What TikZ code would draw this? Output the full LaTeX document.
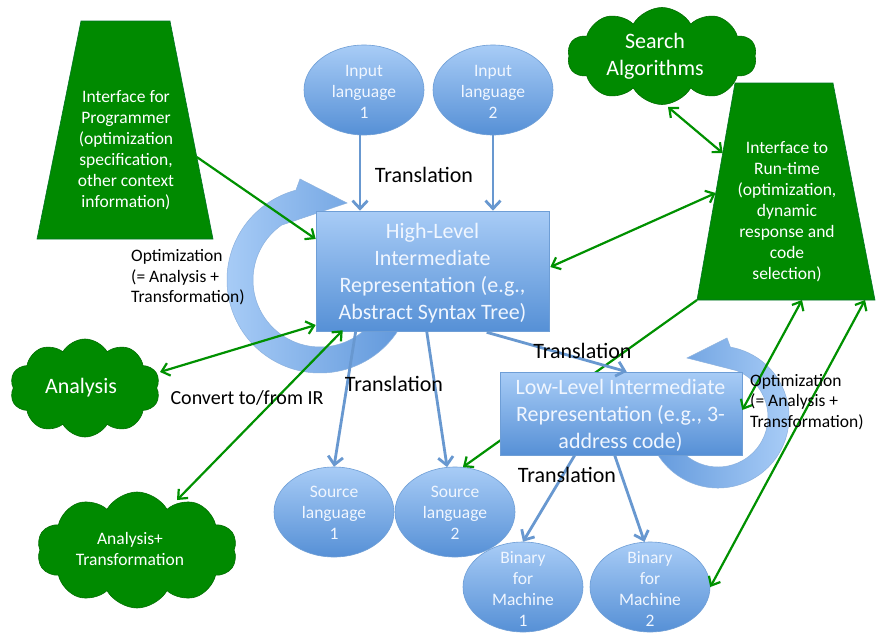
\documentclass[tikz,border=0pt]{standalone}
\usepackage{fontspec}
\setmainfont{Carlito}
\usetikzlibrary{shapes.geometric,shapes.symbols,arrows.meta,calc}
\definecolor{grn}{RGB}{0,138,0}
\definecolor{grnline}{RGB}{0,145,0}
\definecolor{btop}{RGB}{168,204,246}
\definecolor{bbot}{RGB}{86,144,214}
\definecolor{bline}{RGB}{110,158,214}
\definecolor{barrowc}{RGB}{104,152,208}
\definecolor{btext}{RGB}{240,246,255}
\definecolor{ringL}{RGB}{172,207,248}
\definecolor{ringD}{RGB}{98,153,220}
\begin{document}
\begin{tikzpicture}[x=1pt,y=-1pt,
  bluebox/.style={rectangle, inner sep=0pt, top color=btop, bottom color=bbot, draw=bline, line width=0.6pt},
  ell/.style={ellipse, minimum width=120pt, minimum height=90pt, inner sep=0pt, top color=btop, bottom color=bbot, draw=bline, line width=0.6pt},
  etext/.style={inner sep=0pt, text=btext, align=center, font=\fontsize{17.5}{21}\selectfont},
  bigtext/.style={inner sep=0pt, text=btext, align=center, font=\fontsize{22}{27}\selectfont},
  wtext/.style={inner sep=0pt, text=white, align=center, font=\fontsize{17.5}{21}\selectfont},
  wbig/.style={inner sep=0pt, text=white, align=center, font=\fontsize{22}{27}\selectfont},
  lbl/.style={inner sep=0pt, text=black, font=\fontsize{22}{27}\selectfont},
  smlbl/.style={inner sep=0pt, text=black, align=left, font=\fontsize{17.5}{20.5}\selectfont},
  gcloud/.style={cloud, cloud puffs=10, cloud puff arc=120, cloud ignores aspect, inner sep=0pt, fill=grn, draw=grn!80!black, line width=0.6pt},
  trapfill/.style={fill=grn, draw=grn!85!blue, line width=0.6pt},
  ring/.style={draw=bline!80, line width=0.5pt},
  gone/.style={draw=grnline, line width=2.2pt, -{Straight Barb[length=7.5pt,width=13pt]}},
  gtwo/.style={draw=grnline, line width=2.2pt, {Straight Barb[length=7.5pt,width=13pt]}-{Straight Barb[length=7.5pt,width=13pt]}},
  barr/.style={draw=barrowc, line width=2.8pt, -{Straight Barb[length=8pt,width=15pt]}}
]
\fill[white] (0,0) rectangle (876,635);
\useasboundingbox (0,0) rectangle (876,635);

% circular arrows
\coordinate (c1) at (320,280);
\shade[ring, left color=ringL, right color=ringD]
  ($(c1)+(30:93)$) arc[start angle=30,end angle=255,radius=93]
  -- (300,179) -- (347,203) -- ($(c1)+(235:67)$)
  arc[start angle=235,end angle=30,radius=67] -- cycle;
\coordinate (c2) at (718,417);
\shade[ring, left color=ringD, right color=ringL]
  ($(c2)+(163:71)$) arc[start angle=163,end angle=-80,radius=71]
  -- (727,338) -- (687,358) -- ($(c2)+(-68:50)$)
  arc[start angle=-68,end angle=163,radius=50] -- cycle;

% green trapezoids
\coordinate (ipTL) at (81,21);
\coordinate (ipTR) at (170,21);
\coordinate (ipBR) at (213,239);
\coordinate (ipBL) at (37,239);
\fill[trapfill] (ipTL) -- (ipTR) -- (ipBR) -- (ipBL) -- cycle;
\node[wtext] (ip) at (126,150.5) {Interface for\\Programmer\\(optimization\\specification,\\other context\\information)};
\coordinate (rtTL) at (735,83);
\coordinate (rtTR) at (833,83);
\coordinate (rtBR) at (875,300);
\coordinate (rtBL) at (697,300);
\fill[trapfill] (rtTL) -- (rtTR) -- (rtBR) -- (rtBL) -- cycle;
\node[wtext] (rt) at (787,211.5) {Interface to\\Run-time\\(optimization,\\dynamic\\response and\\code\\selection)};

% green clouds
\node[gcloud, minimum width=189pt, minimum height=97pt] (sa) at (662,56) {};
\node[wbig] at (655,56.5) {Search\\Algorithms};
\node[gcloud, minimum width=150pt, minimum height=98pt] (ana) at (85,388) {};
\node[wbig] at (81,388) {Analysis};
\node[gcloud, minimum width=200pt, minimum height=116pt] (at) at (137,550) {};
\node[wtext] at (130,548.5) {Analysis+\\Transformation};

% green connector behind the low-level box
\node[ell] (src2) at (455,512) {};
\draw[gone] (rtBL) -- (src2.80);

% blue shapes
\node[bluebox, minimum width=233pt, minimum height=120pt] (hl) at (432.5,271) {};
\node[bigtext] at (432.5,273) {High-Level\\Intermediate\\Representation (e.g.,\\Abstract Syntax Tree)};
\node[bluebox, minimum width=242pt, minimum height=83pt] (ll) at (621,413.5) {};
\node[bigtext] at (620.5,415.5) {Low-Level Intermediate\\Representation (e.g., 3-\\address code)};

\node[ell] (in1) at (364,90) {};
\node[etext] at (364,92) {Input\\language\\1};
\node[ell] (in2) at (493,90) {};
\node[etext] at (493,92) {Input\\language\\2};
\node[ell] (src1) at (334,512) {};
\node[etext] at (334,513) {Source\\language\\1};
\node[etext] at (455,513) {Source\\language\\2};
\node[ell] (bin1) at (523,587) {};
\node[etext] at (523,588.5) {Binary\\for\\Machine\\1};
\node[ell] (bin2) at (650,587) {};
\node[etext] at (650,588.5) {Binary\\for\\Machine\\2};

% blue connectors
\draw[barr] (in1.265) -- (in1.265 |- hl.north);
\draw[barr] (in2.south) -- (in2.south |- hl.north);
\draw[barr] ($(hl.south west)+(40,0)$) -- (src1.north);
\draw[barr] ($(hl.south west)+(111,0)$) -- (src2.100);
\draw[barr] ($(hl.south west)+(171,1)$) -- ($(ll.north west)+(127,0)$);
\draw[barr] ($(ll.south west)+(75,0)$) -- (bin1.north);
\draw[barr] ($(ll.south west)+(115,0)$) -- (bin2.97);

% green connectors
\draw[gone] ($(ipTR)!0.624!(ipBR)$) -- ($(hl.west)+(0,-32)$);
\draw[gtwo] ($(ana.center)+(75,-16)$) -- ($(hl.west)+(0,54)$);
\draw[gtwo] ($(at.center)+(40,-50)$) -- ($(hl.south west)+(27,-1)$);
\draw[gtwo] ($(rtTL)!0.507!(rtBL)$) -- ($(hl.east)+(1,-4)$);
\draw[gtwo] ($(sa.center)+(6,51)$) -- ($(rtTL)!0.323!(rtBL)$);
\draw[gtwo] ($(rtBL)!0.59!(rtBR)$) -- ($(ll.east)+(0,-3.5)$);
\draw[gtwo] ($(rtBL)!0.944!(rtBR)$) -- (bin2.east);

% labels
\node[lbl] (t1) at (424,175) {Translation};
\node[smlbl, anchor=west] (o1) at (131,277.5) {Optimization\\(= Analysis +\\Transformation)};
\node[lbl] (t2) at (394,384) {Translation};
\node[inner sep=0pt, font=\fontsize{20}{24}\selectfont] (cv) at (247,398) {Convert to/from IR};
\node[lbl] (t3) at (582.5,351) {Translation};
\node[lbl] (t4) at (567,475) {Translation};
\node[smlbl, anchor=west] (o2) at (750,402) {Optimization\\(= Analysis +\\Transformation)};
\end{tikzpicture}
\end{document}
